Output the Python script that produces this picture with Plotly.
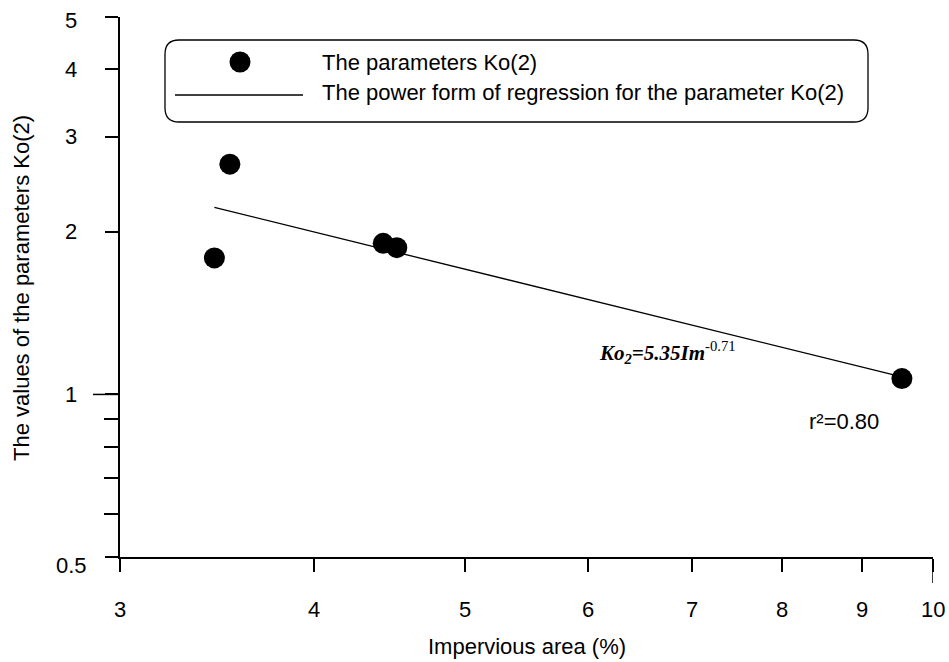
import math
import plotly.graph_objects as go

# ---- data ----
impervious = [3.45, 3.53, 4.43, 4.52, 9.55]
ko2_values = [1.79, 2.67, 1.905, 1.87, 1.07]

# regression line (power form Ko2 = 5.35 Im^-0.71) endpoints
reg_x = [3.45, 9.55]
reg_y = [2.22, 1.078]

x_tickvals = [3, 4, 5, 6, 7, 8, 9, 10]
x_ticktext = ["3", "4", "5", "6", "7", "8", "9", "10"]
y_tickvals = [0.5, 1, 2, 3, 4, 5]
y_ticktext = ["0.5", "1", "2", "3", "4", "5"]
y_minor = [0.6, 0.7, 0.8, 0.9]

legend_labels = ["The parameters Ko(2)",
                 "The power form of regression for the parameter Ko(2)"]

# ---- layout geometry (pixels) ----
W, H = 949, 662
L, R, T, B = 120, 933, 17, 557
FONT = "Liberation Sans, Arial, sans-serif"
FS = 22
YMIN, YMAX = 0.5, 5.0
XMIN, XMAX = 3.0, 10.0


def px(x):
    return (x - L) / (R - L)


def py(y):
    return (B - y) / (B - T)


def tf():
    return dict(family=FONT, size=FS, color="black")


fig = go.Figure()
fig.add_trace(go.Scatter(x=reg_x, y=reg_y, mode="lines",
                         line=dict(color="black", width=1.3),
                         showlegend=False, hoverinfo="skip"))
fig.add_trace(go.Scatter(x=impervious, y=ko2_values, mode="markers",
                         marker=dict(color="black", size=21),
                         showlegend=False))

shapes = []
# rounded legend box
bx0, bx1, by0, by1, r = 165, 868, 40, 122, 14
path = (f"M {px(bx0 + r)},{py(by0)} L {px(bx1 - r)},{py(by0)} "
        f"Q {px(bx1)},{py(by0)} {px(bx1)},{py(by0 + r)} "
        f"L {px(bx1)},{py(by1 - r)} Q {px(bx1)},{py(by1)} {px(bx1 - r)},{py(by1)} "
        f"L {px(bx0 + r)},{py(by1)} Q {px(bx0)},{py(by1)} {px(bx0)},{py(by1 - r)} "
        f"L {px(bx0)},{py(by0 + r)} Q {px(bx0)},{py(by0)} {px(bx0 + r)},{py(by0)} Z")
shapes.append(dict(type="path", xref="paper", yref="paper", path=path,
                   line=dict(color="black", width=1.3)))
# legend symbols
shapes.append(dict(type="circle", xref="paper", yref="paper",
                   xsizemode="pixel", ysizemode="pixel",
                   xanchor=px(240), yanchor=py(62),
                   x0=-10.5, x1=10.5, y0=-10.5, y1=10.5,
                   fillcolor="black", line=dict(color="black", width=0)))
shapes.append(dict(type="line", xref="paper", yref="paper",
                   x0=px(175), x1=px(303), y0=py(95), y1=py(95),
                   line=dict(color="black", width=1.3)))
# longer tick at y=1 and x=10, axis extension at left
shapes.append(dict(type="line", xref="paper", yref="y", x0=px(93), x1=px(L),
                   y0=1, y1=1, line=dict(color="black", width=1.5)))
shapes.append(dict(type="line", xref="x", yref="paper", x0=10, x1=10,
                   y0=py(B), y1=py(583), line=dict(color="black", width=1.5)))
shapes.append(dict(type="line", xref="paper", yref="paper", x0=px(105), x1=px(L),
                   y0=0, y1=0, line=dict(color="black", width=1.5)))

annotations = [
    dict(xref="paper", yref="paper", x=px(320), y=py(62), xanchor="left",
         yanchor="middle", text=legend_labels[0], showarrow=False, font=tf()),
    dict(xref="paper", yref="paper", x=px(320), y=py(93), xanchor="left",
         yanchor="middle", text=legend_labels[1], showarrow=False, font=tf()),
    dict(xref="paper", yref="paper", x=px(597), y=py(352), xanchor="left",
         yanchor="middle",
         text="<b><i>Ko<sub>2</sub>=5.35Im</i></b><sup>-0.71</sup>", showarrow=False,
         font=dict(family="Liberation Serif, Times New Roman, serif", size=21,
                   color="black")),
    dict(xref="paper", yref="paper", x=px(807), y=py(421), xanchor="left",
         yanchor="middle", text="r²=0.80", showarrow=False, font=tf()),
    dict(xref="paper", yref="paper", x=px(527), y=py(646), xanchor="center",
         yanchor="middle", text="Impervious area (%)", showarrow=False, font=tf()),
    dict(xref="paper", yref="paper", x=px(22), y=py(288), xanchor="center",
         yanchor="middle", text="The values of the parameters Ko(2)",
         textangle=-90, showarrow=False, font=tf()),
]
# y tick labels (centered, as in the reference), placed in paper coordinates
ylo, yhi = math.log10(YMIN), math.log10(YMAX)
for v, t in zip(y_tickvals, y_ticktext):
    shift = -8 if v == 0.5 else (-3 if v == 5 else 0)
    frac = (math.log10(v) - ylo) / (yhi - ylo)
    annotations.append(dict(xref="paper", yref="paper", x=px(71), y=frac,
                            xanchor="center", yanchor="middle", yshift=shift,
                            text=t, showarrow=False, font=tf()))
# x tick labels
xlo, xhi = math.log10(XMIN), math.log10(XMAX)
for v, t in zip(x_tickvals, x_ticktext):
    frac = (math.log10(v) - xlo) / (xhi - xlo)
    annotations.append(dict(xref="paper", yref="paper", x=frac, y=py(609),
                            xanchor="center", yanchor="middle",
                            text=t, showarrow=False, font=tf()))

fig.update_layout(
    width=W, height=H,
    margin=dict(l=L, r=W - R, t=T, b=H - B),
    plot_bgcolor="white", paper_bgcolor="white",
    showlegend=False,
    font=tf(),
    shapes=shapes, annotations=annotations,
    xaxis=dict(type="log", range=[xlo, xhi], tickmode="array",
               tickvals=x_tickvals, showticklabels=False,
               showgrid=False, zeroline=False, showline=True,
               linecolor="black", linewidth=1.5,
               ticks="outside", ticklen=13, tickwidth=1.5, tickcolor="black"),
    yaxis=dict(type="log", range=[ylo, yhi], tickmode="array",
               tickvals=y_tickvals, showticklabels=False,
               showgrid=False, zeroline=False, showline=True,
               linecolor="black", linewidth=1.5,
               ticks="outside", ticklen=13, tickwidth=1.5, tickcolor="black",
               minor=dict(tickvals=y_minor, ticks="outside", ticklen=14,
                          tickwidth=1.5, tickcolor="black", showgrid=False)),
)

fig.write_html("out.html")
